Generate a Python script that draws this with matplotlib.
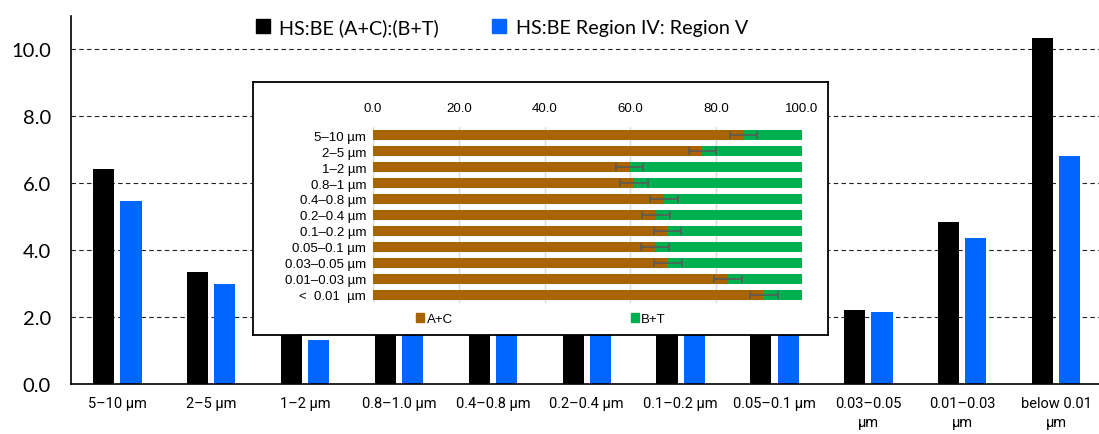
#!/usr/bin/env python3
"""HS:BE ratios by particle size, with A+C / B+T composition inset."""

import matplotlib
matplotlib.use("Agg")
import matplotlib.pyplot as plt
import numpy as np
from matplotlib.patches import Patch

# main chart: ratio per size class
SIZE_LABELS = [
    "5–10 µm", "2–5 µm", "1–2 µm", "0.8–1.0 µm", "0.4–0.8 µm", "0.2–0.4 µm",
    "0.1–0.2 µm", "0.05–0.1 µm", "0.03–0.05\nµm", "0.01–0.03\nµm", "below 0.01\nµm",
]
RATIO_AC_BT = [6.42, 3.34, 1.49, 1.55, 2.11, 1.94, 2.19, 1.92, 2.21, 4.84, 10.33]
RATIO_IV_V = [5.46, 2.99, 1.31, 1.60, 1.90, 1.80, 2.00, 1.80, 2.15, 4.36, 6.81]

# inset: share of A+C (%) with error
INSET_LABELS = [
    "5–10 µm", "2–5 µm", "1–2 µm", "0.8–1 µm", "0.4–0.8 µm", "0.2–0.4 µm",
    "0.1–0.2 µm", "0.05–0.1 µm", "0.03–0.05 µm", "0.01–0.03 µm", "<  0.01  µm",
]
PCT_AC = [86.4, 76.8, 59.8, 60.8, 67.8, 66.0, 68.7, 65.7, 68.8, 82.8, 91.1]
PCT_ERR = [3.2, 3.2, 3.2, 3.2, 3.2, 3.2, 3.2, 3.2, 3.2, 3.2, 3.2]

BLACK = "#000000"
BLUE = "#0066FF"
BROWN = "#A86400"
GREEN = "#00B050"

W, H = 1099, 435


def fx(px):
    return px / W


def fy(py):
    return 1 - py / H


fig = plt.figure(figsize=(W / 100, H / 100), dpi=100)

# ---- main bar chart
ax = fig.add_axes([fx(70.5), fy(385), fx(1103 - 70.5), (385 - 17) / H])
x = np.arange(len(SIZE_LABELS))
bw = 0.225
ax.bar(x - 0.145, RATIO_AC_BT, bw, color=BLACK, zorder=2)
ax.bar(x + 0.145, RATIO_IV_V, bw, color=BLUE, zorder=2)

ax.set_xlim(-0.5, len(SIZE_LABELS) - 0.5)
ax.set_ylim(0, 11)
ax.set_yticks(np.arange(0, 11, 2.0))
ax.set_yticklabels([f"{v:.1f}" for v in np.arange(0, 11, 2.0)],
                   fontsize=14.5, family="Lato")
ax.set_xticks(x)
ax.set_xticklabels(SIZE_LABELS, fontsize=10.5, family="Roboto", linespacing=1.4)
ax.tick_params(axis="y", length=0, pad=14)
ax.tick_params(axis="x", length=0, pad=9)
for lab in ax.get_xticklabels():
    lab.set_va("top")

ax.yaxis.grid(True, linestyle=(0, (4, 3)), color="#222222", linewidth=0.8, zorder=0)
ax.set_axisbelow(True)
for s in ["top", "right"]:
    ax.spines[s].set_visible(False)
ax.spines["left"].set_linewidth(1.2)
ax.spines["bottom"].set_linewidth(1.2)

fig.legend(
    handles=[Patch(color=BLACK), Patch(color=BLUE)],
    labels=["HS:BE (A+C):(B+T)", "HS:BE Region IV: Region V"],
    loc="center", bbox_to_anchor=(fx(502), fy(28)), ncol=2, frameon=False,
    prop={"family": "Lato", "size": 14.2},
    handlelength=0.7, handleheight=0.7, handletextpad=0.5, columnspacing=2.7,
)

# ---- inset box
box = fig.add_axes([fx(253), fy(336), fx(828 - 253), (336 - 83) / H], zorder=3)
box.set_xticks([])
box.set_yticks([])
box.set_facecolor("white")
for s in box.spines.values():
    s.set_linewidth(1.3)

ins = fig.add_axes([fx(373), fy(304), fx(802 - 373), (304 - 128) / H], zorder=4)
ins.patch.set_alpha(0)
yy = np.arange(len(INSET_LABELS))
pct_bt = [100 - v for v in PCT_AC]
ins.barh(yy, PCT_AC, height=0.58, color=BROWN, zorder=2)
ins.barh(yy, pct_bt, left=PCT_AC, height=0.58, color=GREEN, zorder=2)
ins.errorbar(PCT_AC, yy, xerr=PCT_ERR, fmt="none", ecolor="#595959",
             elinewidth=1.1, capsize=3, capthick=1.1, zorder=3)
ins.set_ylim(len(INSET_LABELS) - 0.5, -0.5)
ins.set_xlim(0, 100)
ins.set_xticks(np.arange(0, 101, 20))
ins.set_xticklabels([f"{v:.1f}" for v in np.arange(0, 101, 20)],
                    fontsize=9.5, family="Liberation Sans")
ins.xaxis.tick_top()
ins.set_yticks(yy)
ins.set_yticklabels(INSET_LABELS, fontsize=9.5, family="Liberation Sans")
ins.tick_params(length=0, pad=5)
ins.tick_params(axis="x", pad=9)
ins.xaxis.grid(True, color="#D9D9D9", linewidth=1.0, zorder=0)
ins.set_axisbelow(True)
for s in ins.spines.values():
    s.set_visible(False)

ins.legend(
    handles=[Patch(color=BROWN), Patch(color=GREEN)],
    labels=["A+C", "B+T"],
    loc="center", bbox_to_anchor=(fx(541), fy(320)),
    bbox_transform=fig.transFigure, ncol=2, frameon=False,
    prop={"family": "Liberation Sans", "size": 9.5},
    handlelength=0.6, handleheight=0.6, handletextpad=0.2, columnspacing=13.5,
)

fig.savefig("out.png", dpi=100)
